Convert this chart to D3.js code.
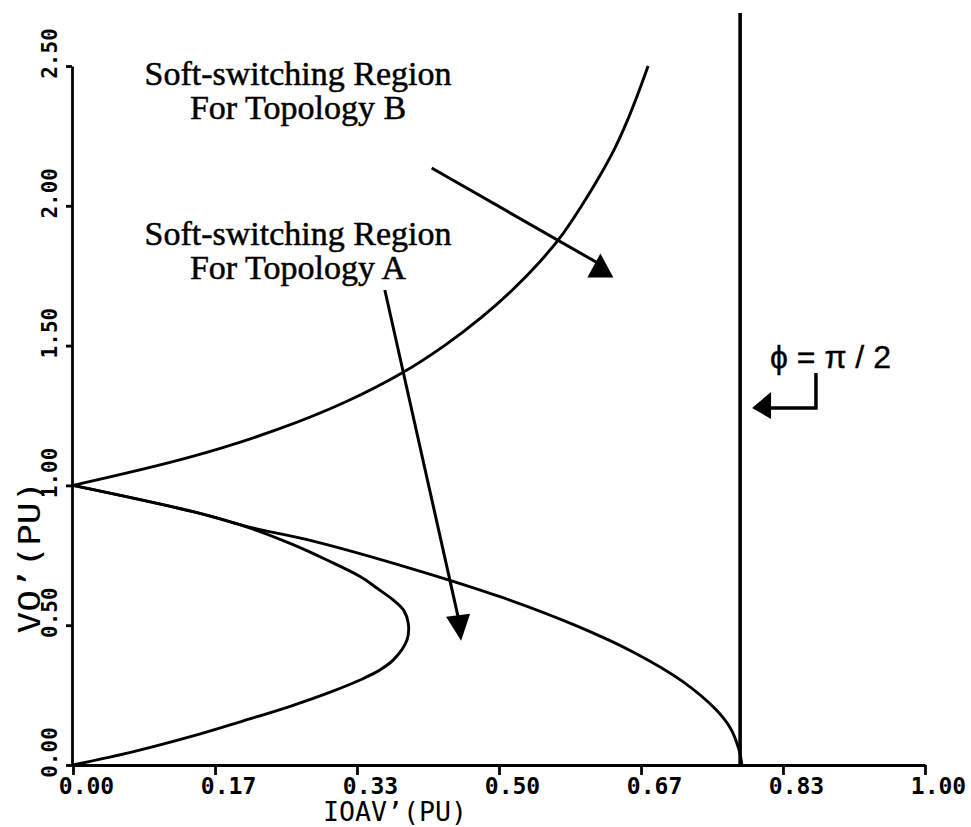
<!DOCTYPE html>
<html>
<head>
<meta charset="utf-8">
<script src="https://cdn.jsdelivr.net/npm/d3@7"></script>
<style>
  body { margin: 0; background: #fff; }
  svg { display: block; }
</style>
</head>
<body>
<div id="chart"></div>
<script>
// tick values and labels
const xTicks = [0, 0.1667, 0.3333, 0.5, 0.6667, 0.8333, 1.0];
const xTickLabels = ["0.00", "0.17", "0.33", "0.50", "0.67", "0.83", "1.00"];
const yTicks = [0, 0.5, 1.0, 1.5, 2.0, 2.5];
const yTickLabels = ["0.00", "0.50", "1.00", "1.50", "2.00", "2.50"];

// upper boundary (Topology B): [IOAV', VO']
const upperCurve = [
    [0, 1.0], [0.136, 1.1], [0.240, 1.2], [0.321, 1.3], [0.385, 1.4],
    [0.436, 1.5], [0.479, 1.6], [0.516, 1.7], [0.548, 1.8], [0.575, 1.9],
    [0.597, 2.0], [0.617, 2.1], [0.635, 2.2], [0.650, 2.3], [0.663, 2.4], [0.675, 2.5]
];

// lower boundary, ends on phi = pi/2
const lowerCurve = [
    [0, 1.0], [0.149, 0.9], [0.208, 0.85], [0.283, 0.8], [0.4, 0.7],
    [0.503, 0.6], [0.589, 0.5], [0.66, 0.4], [0.715, 0.3], [0.754, 0.2],
    [0.772, 0.13], [0.779, 0.08], [0.783, 0.04], [0.785, 0]
];

// inner boundary (Topology A)
const innerCurve = [
    [0, 1.0], [0.149, 0.9], [0.208, 0.847], [0.259, 0.787], [0.298, 0.733],
    [0.337, 0.674], [0.357, 0.632], [0.376, 0.590], [0.388, 0.554], [0.3935, 0.507],
    [0.392, 0.447], [0.376, 0.376], [0.357, 0.334], [0.337, 0.304], [0.298, 0.256],
    [0.255, 0.21], [0.2, 0.158], [0.14, 0.103], [0.07, 0.047], [0, 0]
];

// phi = pi/2 limit
const phiLimit = 0.783;
const phiTop = 2.69;

const width = 971, height = 827;

const svg = d3.select("#chart")
    .append("svg")
    .attr("width", width)
    .attr("height", height);

const x = d3.scaleLinear().domain([0, 1]).range([73, 925]);
const y = d3.scaleLinear().domain([0, 2.5]).range([765, 66]);

const tickFont = "'DejaVu Sans Mono', monospace";

// x axis
const xAxis = svg.append("g")
    .attr("transform", `translate(0,${y(0)})`)
    .call(d3.axisBottom(x)
        .tickValues(xTicks)
        .tickFormat((d, i) => xTickLabels[i])
        .tickSize(10)
        .tickSizeOuter(0));

xAxis.selectAll("text")
    .attr("y", 29)
    .attr("dy", null)
    .attr("dx", 13)
    .style("font-family", tickFont)
    .style("font-weight", "bold")
    .style("font-size", "23px")
    .attr("fill", "#000");

// y axis
const yAxis = svg.append("g")
    .attr("transform", `translate(${x(0) - 1},0)`)
    .call(d3.axisLeft(y)
        .tickValues(yTicks)
        .tickFormat((d, i) => yTickLabels[i])
        .tickSize(6)
        .tickSizeOuter(0));

yAxis.selectAll("text")
    .attr("x", null)
    .attr("dy", null)
    .attr("text-anchor", "middle")
    .attr("transform", "translate(-15,-13) rotate(-90)")
    .style("font-family", tickFont)
    .style("font-weight", "bold")
    .style("font-size", "21px")
    .attr("fill", "#000");

svg.selectAll(".domain, .tick line")
    .attr("stroke", "#000")
    .attr("stroke-width", 2.8);

// axis titles
svg.append("text")
    .attr("x", 395)
    .attr("y", 821)
    .attr("text-anchor", "middle")
    .attr("textLength", 144)
    .attr("lengthAdjust", "spacingAndGlyphs")
    .style("font-family", tickFont)
    .style("font-size", "26px")
    .text("IOAV’(PU)");

svg.append("text")
    .attr("transform", "translate(40,557) rotate(-90)")
    .attr("text-anchor", "middle")
    .attr("textLength", 153)
    .attr("lengthAdjust", "spacingAndGlyphs")
    .style("font-family", tickFont)
    .style("font-size", "31px")
    .text("VO’(PU)");

// curves
const line = d3.line()
    .x(d => x(d[0]))
    .y(d => y(d[1]))
    .curve(d3.curveCatmullRom);

[upperCurve, lowerCurve, innerCurve].forEach(c => {
    svg.append("path")
        .datum(c)
        .attr("d", line)
        .attr("fill", "none")
        .attr("stroke", "#000")
        .attr("stroke-width", 2.9);
});

// phi = pi/2 vertical line
svg.append("line")
    .attr("x1", x(phiLimit)).attr("x2", x(phiLimit))
    .attr("y1", y(phiTop)).attr("y2", y(0))
    .attr("stroke", "#000")
    .attr("stroke-width", 3.6);

// annotation text
const noteFont = "'Liberation Serif', 'Times New Roman', serif";
function note(lines, cx, y0) {
    lines.forEach((t, i) => {
        svg.append("text")
            .attr("x", cx)
            .attr("y", y0 + i * 34)
            .attr("text-anchor", "middle")
            .style("font-family", noteFont)
            .style("font-size", "34px")
            .attr("fill", "#000")
            .attr("stroke", "#000")
            .attr("stroke-width", 0.5)
            .text(t);
    });
}
note(["Soft-switching Region", "For Topology B"], 298, 85);
note(["Soft-switching Region", "For Topology A"], 298, 245);

// arrow B (triangle apex up)
const arrowB = { from: [0.421, 2.135], to: [0.619, 1.79] };
svg.append("line")
    .attr("x1", x(arrowB.from[0])).attr("y1", y(arrowB.from[1]))
    .attr("x2", x(arrowB.to[0])).attr("y2", y(arrowB.to[1]))
    .attr("stroke", "#000").attr("stroke-width", 3);
{
    const px = x(arrowB.to[0]), py = y(arrowB.to[1]);
    svg.append("path")
        .attr("d", `M${px - 13},${py + 13} L${px},${py - 11} L${px + 13},${py + 13} Z`)
        .attr("fill", "#000");
}

// arrow A (pointing down)
const arrowA = { from: [0.366, 1.699], to: [0.452, 0.53] };
svg.append("line")
    .attr("x1", x(arrowA.from[0])).attr("y1", y(arrowA.from[1]))
    .attr("x2", x(arrowA.to[0])).attr("y2", y(arrowA.to[1]))
    .attr("stroke", "#000").attr("stroke-width", 3);
{
    const px = x(arrowA.to[0]), py = y(arrowA.to[1]);
    svg.append("path")
        .attr("d", `M${px - 12},${py} L${px + 12},${py - 3} L${px + 3},${py + 24} Z`)
        .attr("fill", "#000");
}

// phi arrow: bracket then left-pointing head
const phiArrow = { top: [0.872, 1.402], corner: [0.872, 1.277], tip: [0.797, 1.277] };
svg.append("path")
    .attr("d", `M${x(phiArrow.top[0])},${y(phiArrow.top[1])}
                L${x(phiArrow.corner[0])},${y(phiArrow.corner[1])}
                L${x(phiArrow.tip[0]) + 16},${y(phiArrow.tip[1])}`)
    .attr("fill", "none")
    .attr("stroke", "#000")
    .attr("stroke-width", 3.5);
{
    const px = x(phiArrow.tip[0]), py = y(phiArrow.tip[1]);
    svg.append("path")
        .attr("d", `M${px},${py} L${px + 19},${py - 16} L${px + 19},${py + 11} Z`)
        .attr("fill", "#000");
}

svg.append("text")
    .attr("x", 770)
    .attr("y", 368)
    .style("font-family", "'Liberation Sans', Arial, sans-serif")
    .style("font-size", "32px")
    .attr("fill", "#000")
    .attr("stroke", "#000")
    .attr("stroke-width", 0.4)
    .text("ϕ = π / 2");
</script>
</body>
</html>
